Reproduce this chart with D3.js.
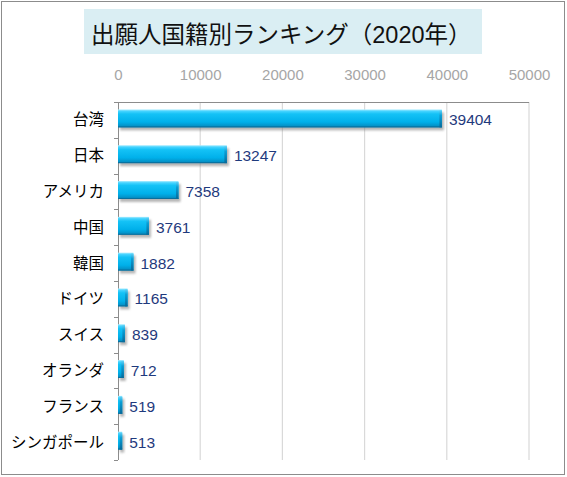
<!DOCTYPE html>
<html>
<meta charset='utf-8'>
<head>
<title>出願人国籍別ランキング</title>
<script src='https://d3js.org/d3.v7.min.js'></script>
<style>
body { margin: 0; background: #fff; }
text { font-family: 'Liberation Sans', Arial, 'Noto Sans CJK JP', sans-serif; }
</style>
</head>
<body>
<div id='chart'></div>
<script>
var countries = ['台湾', '日本', 'アメリカ', '中国', '韓国', 'ドイツ', 'スイス', 'オランダ', 'フランス', 'シンガポール'];
var applications = [39404, 13247, 7358, 3761, 1882, 1165, 839, 712, 519, 513];
var xTicks = [0, 10000, 20000, 30000, 40000, 50000];
var titleText = '出願人国籍別ランキング（2020年）';

var W = 567, H = 477;
var plot = {left: 118, right: 529, top: 102, bottom: 460};

var svg = d3.select('#chart').append('svg')
    .attr('width', W)
    .attr('height', H);

var defs = svg.append('defs');
var grad = defs.append('linearGradient')
    .attr('id', 'barGrad')
    .attr('x1', 0).attr('y1', 0).attr('x2', 0).attr('y2', 1);
[['0%', '#a8ecff'], ['10%', '#45d3ff'], ['25%', '#14c2f6'], ['70%', '#00b0ea'], ['100%', '#0587bb']]
    .forEach(function(s) { grad.append('stop').attr('offset', s[0]).attr('stop-color', s[1]); });
var endGrad = defs.append('linearGradient')
    .attr('id', 'endGrad')
    .attr('x1', 0).attr('y1', 0).attr('x2', 0).attr('y2', 1);
[['0%', '#5fcff5'], ['30%', '#0a9fd6'], ['100%', '#07699a']]
    .forEach(function(s) { endGrad.append('stop').attr('offset', s[0]).attr('stop-color', s[1]); });
defs.append('filter').attr('id', 'blur')
    .attr('x', '-20%').attr('y', '-50%').attr('width', '140%').attr('height', '200%')
    .append('feGaussianBlur').attr('stdDeviation', 1.3);

// outer frame
svg.append('rect')
    .attr('x', 1.5).attr('y', 1.5)
    .attr('width', W - 4).attr('height', H - 4)
    .attr('fill', '#fff')
    .attr('stroke', '#8c8c8c');

// title box
svg.append('rect')
    .attr('x', 84).attr('y', 9)
    .attr('width', 398).attr('height', 45)
    .attr('fill', '#daeef3');
svg.append('text')
    .attr('x', 91).attr('y', 43)
    .attr('font-size', 23.5)
    .attr('fill', '#111')
    .text(titleText);

var x = d3.scaleLinear()
    .domain([0, 50000])
    .range([plot.left, plot.right]);

var y = d3.scaleBand()
    .domain(countries)
    .range([plot.top, plot.bottom])
    .paddingInner(0.5)
    .paddingOuter(0.25);

// gridlines
svg.append('g').selectAll('line')
    .data(xTicks.slice(1))
    .enter().append('line')
    .attr('x1', function(d) { return x(d); })
    .attr('x2', function(d) { return x(d); })
    .attr('y1', plot.top)
    .attr('y2', plot.bottom)
    .attr('stroke', '#d9d9d9')
    .attr('stroke-width', 1.2);

// top border of plot
svg.append('line')
    .attr('x1', plot.left).attr('x2', x(50000))
    .attr('y1', plot.top + 0.5).attr('y2', plot.top + 0.5)
    .attr('stroke', '#8c8c8c');

// value axis labels on top
var xAxis = svg.append('g')
    .attr('transform', 'translate(0,75)')
    .call(d3.axisTop(x).tickValues(xTicks).tickSize(0).tickPadding(0).tickFormat(d3.format('d')));
xAxis.select('.domain').remove();
xAxis.selectAll('text')
    .attr('font-family', "'Liberation Sans', Arial, sans-serif")
    .attr('font-size', 15)
    .attr('fill', '#a6a6a6')
    .attr('dy', '0.35em');

// category axis line and boundary ticks
var step = y.step();
var bounds = countries.map(function(c) { return y(c) - step * 0.25; }).concat([plot.bottom]);
svg.append('line')
    .attr('x1', plot.left + 0.5).attr('x2', plot.left + 0.5)
    .attr('y1', plot.top).attr('y2', plot.bottom)
    .attr('stroke', '#8c8c8c');
svg.append('g').selectAll('line')
    .data(bounds)
    .enter().append('line')
    .attr('x1', plot.left - 4).attr('x2', plot.left)
    .attr('y1', function(d) { return Math.round(d) + 0.5; })
    .attr('y2', function(d) { return Math.round(d) + 0.5; })
    .attr('stroke', '#8c8c8c');

// category labels
svg.append('g').selectAll('text')
    .data(countries)
    .enter().append('text')
    .attr('x', 104)
    .attr('y', function(d) { return y(d) + y.bandwidth() / 2; })
    .attr('dy', '0.35em')
    .attr('text-anchor', 'end')
    .attr('font-family', "'Noto Sans CJK JP', sans-serif")
    .attr('font-size', 15.5)
    .attr('fill', '#000')
    .text(function(d) { return d; });

var rows = countries.map(function(c, i) { return {name: c, value: applications[i]}; });
var barH = y.bandwidth();
var shift = -1.5;

var bars = svg.append('g').selectAll('g')
    .data(rows)
    .enter().append('g')
    .attr('transform', function(d) { return 'translate(0,' + (y(d.name) + shift) + ')'; });

bars.append('rect')
    .attr('x', x(0) + 2)
    .attr('y', 3)
    .attr('width', function(d) { return x(d.value) - x(0); })
    .attr('height', barH)
    .attr('fill', '#7a7a7a')
    .attr('opacity', 0.55)
    .attr('filter', 'url(#blur)');

bars.append('rect')
    .attr('x', x(0))
    .attr('y', 0)
    .attr('width', function(d) { return x(d.value) - x(0); })
    .attr('height', barH)
    .attr('fill', 'url(#barGrad)');

bars.append('rect')
    .attr('x', function(d) { return Math.max(x(0), x(d.value) - 2.5); })
    .attr('y', 1)
    .attr('width', function(d) { return Math.min(2.5, x(d.value) - x(0)); })
    .attr('height', barH - 1)
    .attr('fill', 'url(#endGrad)');

bars.append('line')
    .attr('x1', x(0))
    .attr('x2', function(d) { return x(d.value); })
    .attr('y1', barH - 0.5)
    .attr('y2', barH - 0.5)
    .attr('stroke', '#0a6e9c');

bars.append('text')
    .attr('x', function(d) { return x(d.value) + 7; })
    .attr('y', barH / 2 - shift)
    .attr('dy', '0.35em')
    .attr('font-family', "'Liberation Sans', Arial, sans-serif")
    .attr('font-size', 15.5)
    .attr('fill', '#1f3a7d')
    .text(function(d) { return d.value; });
</script>
</body>
</html>
